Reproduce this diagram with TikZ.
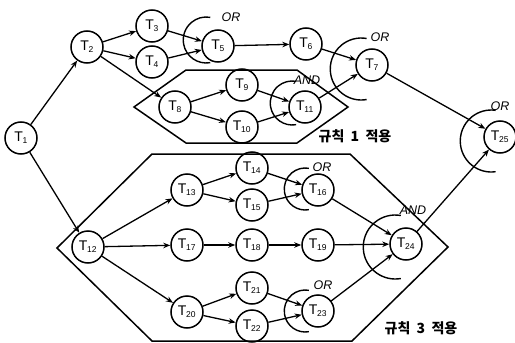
\documentclass[tikz,border=0pt]{standalone}
\usepackage{fontspec}
\setmainfont{Liberation Sans}
\newfontfamily\kofont{Noto Sans CJK KR}
\usetikzlibrary{arrows.meta}
\tikzset{
  task/.style={circle, draw, line width=1.5pt, minimum size=32pt, inner sep=0pt, font=\fontsize{14}{14}\selectfont},
  flow/.style={line width=1.3pt, -{Stealth[length=7pt,width=5.5pt]}},
  rulebox/.style={line width=1.5pt},
  joinarc/.style={line width=1.4pt},
  gate/.style={font=\fontsize{12.5}{12.5}\selectfont\itshape},
  rulelabel/.style={font=\kofont\bfseries\fontsize{14}{14}\selectfont}
}
\newcommand{\tk}[1]{T\kern-0.3pt\textsubscript{\fontsize{8.5}{8.5}\selectfont #1}}
\newcommand{\wsp}{\hspace{0.45em}}
\begin{document}
\begin{tikzpicture}[x=1pt,y=-1pt]
\useasboundingbox (0,0) rectangle (515,343);
% rule regions
\draw[rulebox] (134,107) -- (186,70) -- (297,70) -- (348,107) -- (297,143) -- (186,143) -- cycle;
\draw[rulebox] (57,248) -- (152,154) -- (350,154) -- (448,247) -- (352,341) -- (152,341) -- cycle;
\node[rulelabel] (r1) at (355,136) {규칙\wsp 1\wsp 적용};
\node[rulelabel] (r3) at (421,328) {규칙\wsp 3\wsp 적용};
% tasks
\node[task] (t1) at (21,138) {\tk{1}};
\node[task] (t2) at (87,47) {\tk{2}};
\node[task] (t3) at (152,26) {\tk{3}};
\node[task] (t4) at (152,62) {\tk{4}};
\node[task] (t5) at (218,46) {\tk{5}};
\node[task] (t6) at (306,44) {\tk{6}};
\node[task] (t7) at (372,65) {\tk{7}};
\node[task] (t8) at (175,107) {\tk{8}};
\node[task] (t9) at (242,85) {\tk{9}};
\node[task] (t10) at (242,127) {\tk{10}};
\node[task] (t11) at (305,107) {\tk{11}};
\node[task] (t25) at (500,137) {\tk{25}};
\node[task] (t12) at (88,247) {\tk{12}};
\node[task] (t13) at (187,190) {\tk{13}};
\node[task] (t14) at (252,168) {\tk{14}};
\node[task] (t15) at (252,205) {\tk{15}};
\node[task] (t16) at (318,190) {\tk{16}};
\node[task] (t17) at (187,245) {\tk{17}};
\node[task] (t18) at (252,245) {\tk{18}};
\node[task] (t19) at (318,245) {\tk{19}};
\node[task] (t20) at (187,312) {\tk{20}};
\node[task] (t21) at (252,288) {\tk{21}};
\node[task] (t22) at (252,326) {\tk{22}};
\node[task] (t23) at (318,311) {\tk{23}};
\node[task] (t24) at (406,244) {\tk{24}};
% precedence arrows
\foreach \a/\b in {t1/t2, t1/t12, t2/t3, t2/t4, t2/t8, t3/t5, t4/t5, t5/t6,
  t6/t7, t8/t9, t8/t10, t9/t11, t10/t11, t11/t7, t7/t25,
  t12/t13, t12/t17, t12/t20, t13/t14, t13/t15, t14/t16, t15/t16,
  t17/t18, t18/t19, t20/t21, t20/t22, t21/t23, t22/t23,
  t16/t24, t19/t24, t23/t24, t24/t25}
  \draw[flow] (\a) -- (\b);
% join arcs with gate labels
\draw[joinarc] ([shift={(5,-6)}]t5.west) ++(80:23) arc[start angle=80, end angle=280, radius=23];
\node[gate] (g5) at (231,17) {OR};
\draw[joinarc] ([shift={(6,4)}]t7.west) ++(80:31) arc[start angle=80, end angle=280, radius=31];
\node[gate] (g7) at (380,37) {OR};
\draw[joinarc] ([shift={(4,-4)}]t11.west) ++(80:22) arc[start angle=80, end angle=280, radius=22];
\node[gate] (g11) at (307,80) {AND};
\draw[joinarc] ([shift={(8,4)}]t25.west) ++(82:31) arc[start angle=82, end angle=278, radius=31];
\node[gate] (g25) at (500,106) {OR};
\draw[joinarc] ([shift={(4,-1)}]t16.west) ++(80:21) arc[start angle=80, end angle=280, radius=21];
\node[gate] (g16) at (322,167) {OR};
\draw[joinarc] ([shift={(6,3)}]t24.west) ++(80:32) arc[start angle=80, end angle=280, radius=32];
\node[gate] (g24) at (413,210) {AND};
\draw[joinarc] ([shift={(4,0)}]t23.west) ++(80:21) arc[start angle=80, end angle=280, radius=21];
\node[gate] (g23) at (323,285) {OR};
\end{tikzpicture}
\end{document}
